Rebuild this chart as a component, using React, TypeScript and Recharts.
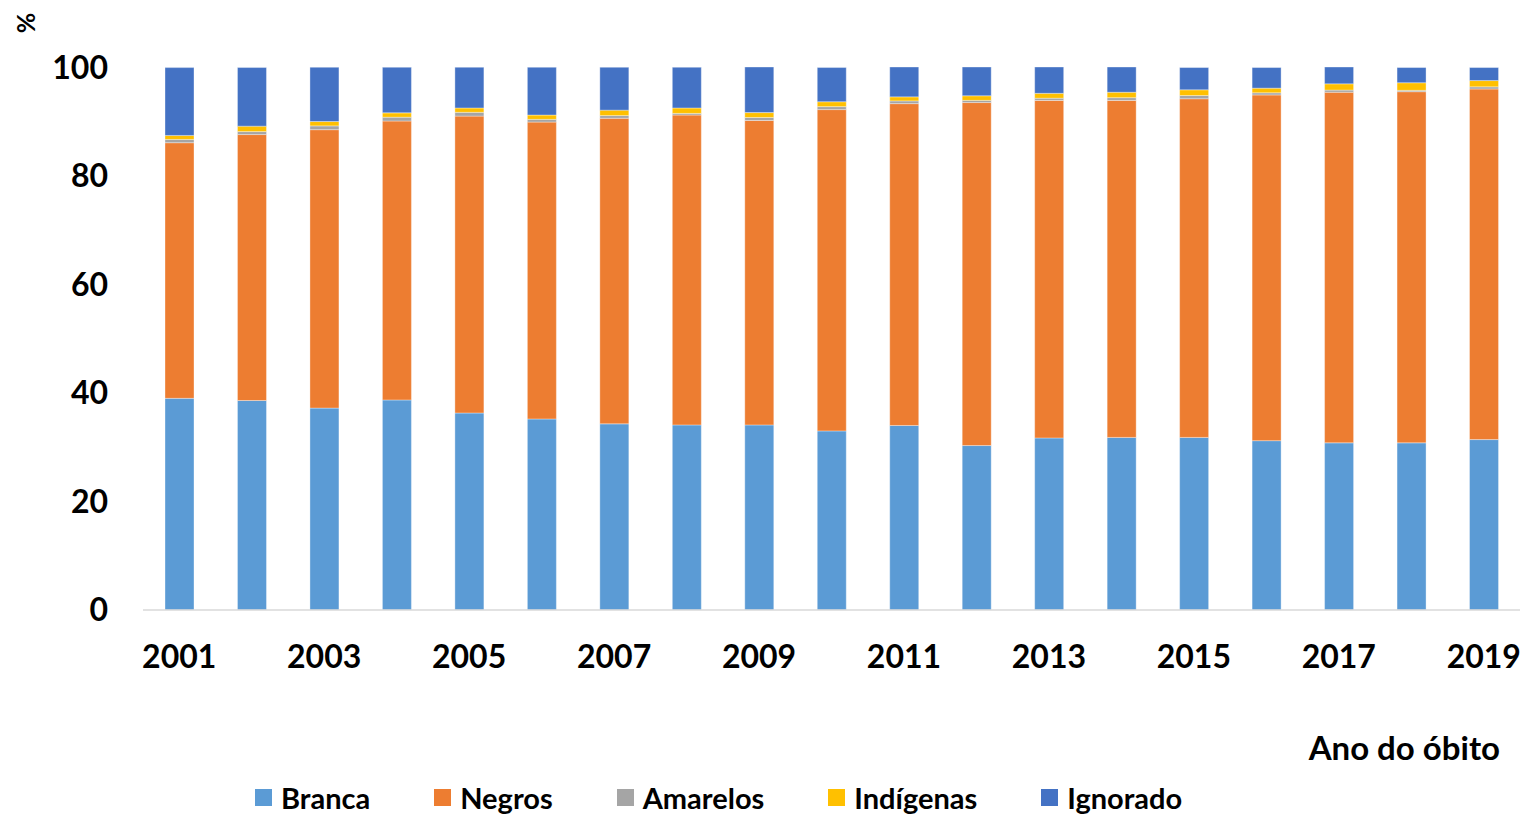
import { BarChart, Bar, XAxis, YAxis, Legend } from "recharts";

const years = [
  "2001", "2002", "2003", "2004", "2005", "2006", "2007", "2008", "2009", "2010",
  "2011", "2012", "2013", "2014", "2015", "2016", "2017", "2018", "2019",
];
const branca = [39.0, 38.6, 37.2, 38.7, 36.3, 35.2, 34.3, 34.1, 34.1, 33.0, 34.0, 30.3, 31.7, 31.8, 31.8, 31.2, 30.8, 30.8, 31.4];
const negros = [47.1, 49.0, 51.3, 51.4, 54.7, 54.7, 56.3, 57.1, 56.1, 59.2, 59.3, 63.2, 62.2, 62.1, 62.4, 63.7, 64.6, 64.7, 64.6];
const amarelos = [0.6, 0.55, 0.7, 0.7, 0.7, 0.5, 0.5, 0.3, 0.55, 0.55, 0.5, 0.4, 0.4, 0.5, 0.6, 0.4, 0.4, 0.25, 0.4];
const indigenas = [0.74, 1.0, 0.8, 0.8, 0.8, 0.8, 1.0, 1.0, 0.9, 0.9, 0.75, 0.85, 0.9, 1.0, 1.05, 0.85, 1.15, 1.4, 1.15];
const ignorado = [12.5, 10.8, 10.0, 8.4, 7.5, 8.8, 7.9, 7.5, 8.4, 6.3, 5.5, 5.3, 4.85, 4.65, 4.1, 3.8, 3.1, 2.8, 2.4];
const yTicks = [0, 20, 40, 60, 80, 100];

const series = [
  { key: "Branca", values: branca, color: "#5b9bd5" },
  { key: "Negros", values: negros, color: "#ed7d31" },
  { key: "Amarelos", values: amarelos, color: "#a5a5a5" },
  { key: "Indígenas", values: indigenas, color: "#ffc000" },
  { key: "Ignorado", values: ignorado, color: "#4472c4" },
];
const order = series.map((s) => s.key);

const data = years.map((year, i) => {
  const row: Record<string, string | number> = { year };
  series.forEach((s) => {
    row[s.key] = s.values[i];
  });
  return row;
});

const font = "Lato, 'Open Sans', sans-serif";

const renderLegend = (props: any) => {
  const payload = [...(props.payload || [])].sort(
    (a: any, b: any) => order.indexOf(a.value) - order.indexOf(b.value)
  );
  return (
    <div style={{ display: "flex", alignItems: "center" }}>
      {payload.map((entry: any) => (
        <div
          key={entry.value}
          style={{ display: "flex", alignItems: "center", marginRight: 64 }}
        >
          <span
            style={{
              display: "inline-block",
              width: 17,
              height: 17,
              background: entry.color,
              marginRight: 9,
            }}
          />
          <span style={{ fontSize: 29, fontWeight: 700, color: "#000" }}>
            {entry.value}
          </span>
        </div>
      ))}
    </div>
  );
};

export default function App() {
  return (
    <div
      style={{
        position: "absolute",
        left: 0,
        top: 0,
        width: 1527,
        height: 814,
        fontFamily: font,
        background: "#fff",
      }}
    >
      <BarChart
        width={1527}
        height={814}
        data={data}
        margin={{ top: 67, right: 7, bottom: 0, left: 0 }}
        barSize={29}
      >
        <XAxis
          dataKey="year"
          height={204}
          interval={1}
          tickLine={false}
          axisLine={{ stroke: "#d9d9d9", strokeWidth: 1.5 }}
          tickMargin={29}
          tick={{ fontSize: 32, fontWeight: 700, fill: "#000", fontFamily: font }}
        />
        <YAxis
          width={143}
          domain={[0, 100]}
          ticks={yTicks}
          axisLine={false}
          tickLine={false}
          tickMargin={29}
          tick={{ fontSize: 32, fontWeight: 700, fill: "#000", fontFamily: font }}
        />
        <Legend
          verticalAlign="middle"
          layout="horizontal"
          content={renderLegend}
          wrapperStyle={{ top: 780, left: 255, width: 1250, height: 32 }}
        />
        {series.map((s) => (
          <Bar
            key={s.key}
            dataKey={s.key}
            stackId="a"
            fill={s.color}
            stroke="#ffffff"
            strokeOpacity={0.35}
            strokeWidth={1}
            isAnimationActive={false}
          />
        ))}
      </BarChart>
      <div
        style={{
          position: "absolute",
          right: 27,
          top: 727,
          fontSize: 33,
          fontWeight: 700,
          color: "#000",
        }}
      >
        Ano do óbito
      </div>
      <div
        style={{
          position: "absolute",
          left: 12,
          top: 9,
          width: 26,
          height: 28,
          fontSize: 25,
          fontWeight: 700,
          color: "#000",
          textAlign: "center",
          lineHeight: "28px",
          transform: "rotate(-90deg)",
          transformOrigin: "center",
        }}
      >
        %
      </div>
    </div>
  );
}
